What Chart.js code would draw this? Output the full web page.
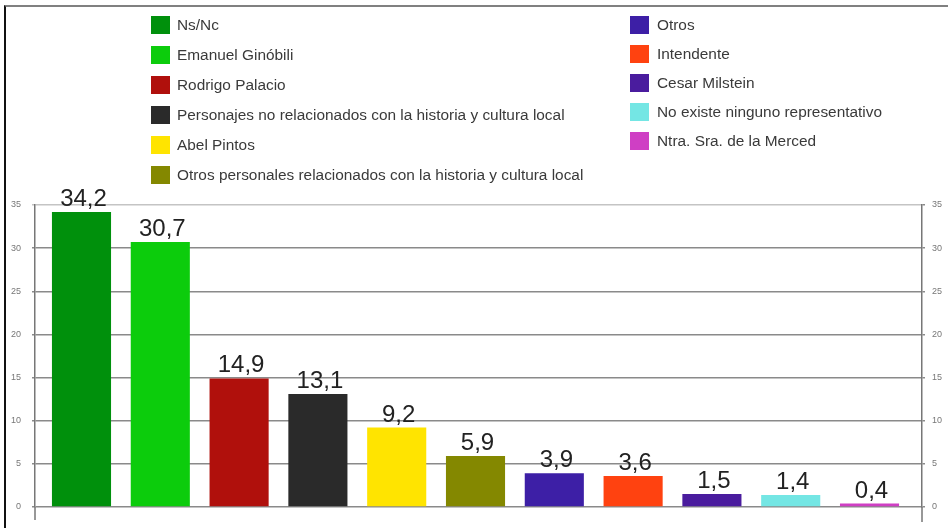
<!DOCTYPE html>
<html>
<head>
<meta charset="utf-8">
<script src="https://cdn.jsdelivr.net/npm/chart.js@4.4.1/dist/chart.umd.min.js"></script>
<style>
  html, body { margin: 0; padding: 0; background: #fff; }
  #wrap { position: relative; width: 948px; height: 528px; overflow: hidden; background: #fff; }
  #frame { position: absolute; left: 4px; top: 5px; right: 0; bottom: 0;
           border-top: 2px solid #808080; border-left: 2px solid #111; }
  canvas { position: absolute; left: 0; top: 0; }
  .leg { position: absolute; font-family: "Liberation Sans", Arial, sans-serif;
         font-size: 15.4px; color: #3a3a3a; white-space: nowrap; }
  .leg .sw { position: absolute; left: 0; width: 19px; height: 18px; }
  .leg .tx { position: absolute; top: 0; line-height: 18px; }
</style>
</head>
<body>
<div id="wrap">
  <div id="frame"></div>
  <canvas id="c" width="948" height="528"></canvas>
  <div id="legend"></div>
</div>
<script>
// Respuestas (%)
const categories = [
  "Ns/Nc",
  "Emanuel Ginóbili",
  "Rodrigo Palacio",
  "Personajes no relacionados con la historia y cultura local",
  "Abel Pintos",
  "Otros personales relacionados con la historia y cultura local",
  "Otros",
  "Intendente",
  "Cesar Milstein",
  "No existe ninguno representativo",
  "Ntra. Sra. de la Merced"
];
const values = [34.2, 30.7, 14.9, 13.1, 9.2, 5.9, 3.9, 3.6, 1.5, 1.4, 0.4];
const colors = [
  "#00900c", "#0ccc0c", "#b0100c", "#2a2a2a", "#ffe400", "#848800",
  "#3d1fa6", "#ff4210", "#4a1c9e", "#74e6e4", "#cf3fc4"
];
const yTicks = [0, 5, 10, 15, 20, 25, 30, 35];

// Two-column legend
const legend = document.getElementById('legend');
categories.forEach((name, i) => {
  const leftCol = i < 6;
  const row = leftCol ? i : i - 6;
  const d = document.createElement('div');
  d.className = 'leg';
  d.style.left = (leftCol ? 151 : 630) + 'px';
  d.style.top = (leftCol ? 16 + row * 30 : 16 + row * 29) + 'px';
  d.innerHTML = '<div class="sw"></div><div class="tx"></div>';
  d.querySelector('.sw').style.background = colors[i];
  const tx = d.querySelector('.tx');
  tx.style.left = (leftCol ? 26 : 27) + 'px';
  tx.textContent = name;
  legend.appendChild(d);
});

const fmt = v => v.toFixed(1).replace('.', ',');

const valueLabels = {
  id: 'valueLabels',
  afterDatasetsDraw(chart) {
    const ctx = chart.ctx;
    const meta = chart.getDatasetMeta(0);
    ctx.save();
    ctx.font = '24px "Liberation Sans", Arial, sans-serif';
    ctx.fillStyle = '#222';
    ctx.textAlign = 'center';
    ctx.textBaseline = 'alphabetic';
    meta.data.forEach((bar, i) => {
      ctx.fillText(fmt(values[i]), bar.x + 2, bar.y - 6);
    });
    ctx.restore();
  }
};

// axis lines continue a little below the zero line
const axisStubs = {
  id: 'axisStubs',
  afterDraw(chart) {
    const a = chart.chartArea, ctx = chart.ctx;
    ctx.save();
    ctx.strokeStyle = '#777';
    ctx.lineWidth = 1.5;
    ctx.beginPath();
    ctx.moveTo(a.left, a.bottom); ctx.lineTo(a.left, a.bottom + 13);
    ctx.moveTo(a.right, a.bottom); ctx.lineTo(a.right, a.bottom + 15);
    ctx.stroke();
    ctx.restore();
  }
};

const tickFont = { family: '"Liberation Sans", Arial, sans-serif', size: 9 };

new Chart(document.getElementById('c'), {
  type: 'bar',
  data: {
    datasets: [{
      data: values.map((v, i) => ({ x: i, y: v })),
      backgroundColor: colors,
      borderWidth: 0,
      barPercentage: 0.75,
      categoryPercentage: 1.0
    }]
  },
  options: {
    responsive: false,
    animation: false,
    layout: { padding: { top: 205, bottom: 21, left: 0, right: 0 } },
    plugins: { legend: { display: false }, tooltip: { enabled: false } },
    scales: {
      x: { type: 'linear', min: -0.59, max: 10.666, offset: false, bounds: 'ticks',
           grid: { offset: false }, display: false },
      y: {
        position: 'left', min: 0, max: 35,
        afterBuildTicks: s => { s.ticks = yTicks.map(v => ({ value: v })); },
        afterFit: s => { s.width = 35; },
        ticks: { font: tickFont, color: '#777', padding: 11 },
        grid: {
          color: c => (c.tick && c.tick.value === 35) ? '#c4c4c4' : '#8a8a8a',
          lineWidth: 1.5, tickLength: 3
        },
        border: { display: true, color: '#777', width: 1.5 }
      },
      y2: {
        position: 'right', min: 0, max: 35,
        afterBuildTicks: s => { s.ticks = yTicks.map(v => ({ value: v })); },
        afterFit: s => { s.width = 26; },
        ticks: { font: tickFont, color: '#777', padding: 7 },
        grid: { drawOnChartArea: false, color: '#8a8a8a', lineWidth: 1.5, tickLength: 3 },
        border: { display: true, color: '#777', width: 1.5 }
      }
    }
  },
  plugins: [valueLabels, axisStubs]
});
</script>
</body>
</html>
